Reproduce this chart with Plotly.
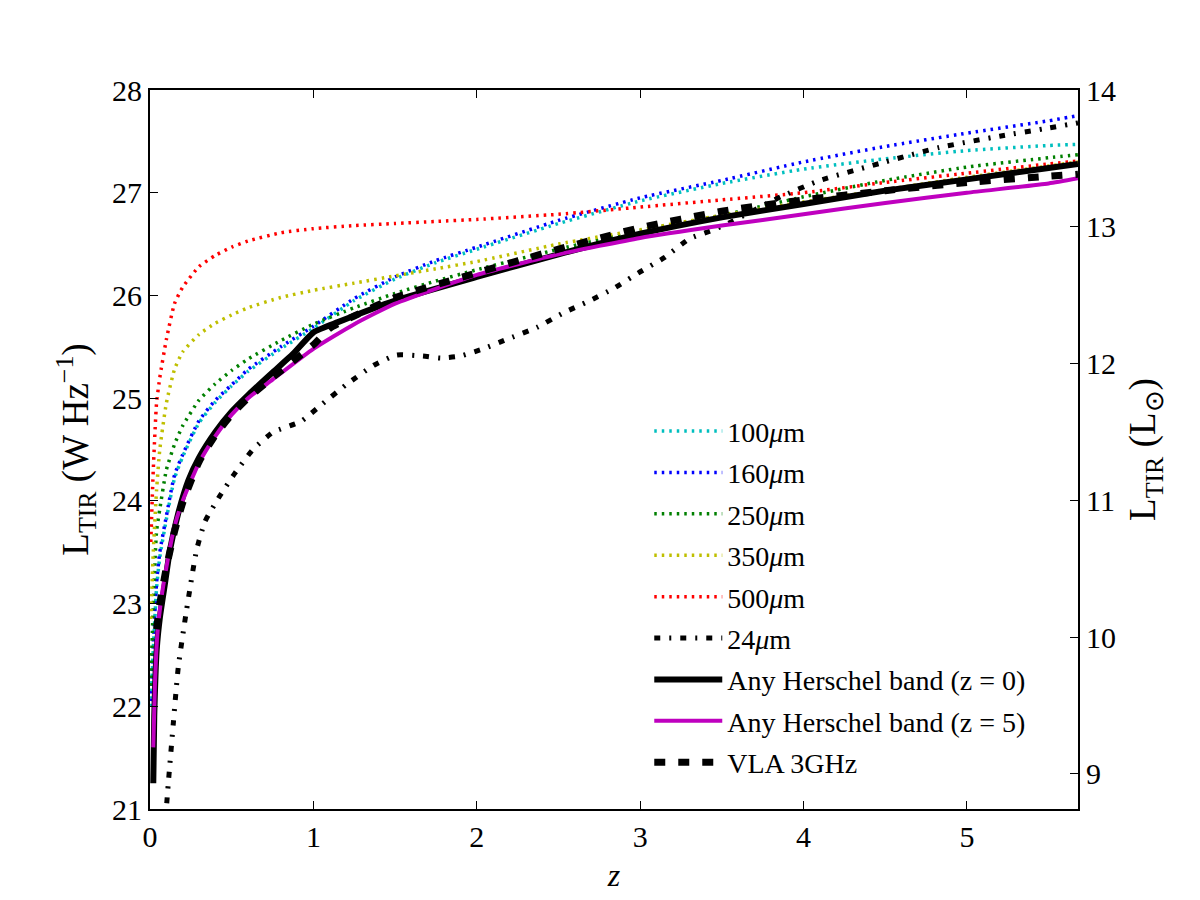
import plotly.graph_objects as go

# ---- data ----
z_grid = [0.005, 0.02, 0.04, 0.06, 0.1, 0.15, 0.2, 0.3, 0.4, 0.5, 0.6, 0.8, 1.0,
          1.25, 1.5, 1.75, 2.0, 2.5, 3.0, 3.5, 4.0, 4.5, 5.0, 5.5, 5.68]

L_100 = [22.0, 22.55, 23.15, 23.45, 23.82, 24.22, 24.43, 24.76, 24.96, 25.12, 25.26, 25.48, 25.68,
         25.95, 26.16, 26.32, 26.45, 26.70, 26.92, 27.09, 27.23, 27.33, 27.41, 27.46, 27.47]
L_160 = [22.05, 22.6, 23.2, 23.5, 23.85, 24.25, 24.45, 24.78, 24.98, 25.13, 25.28, 25.5, 25.7,
         25.97, 26.18, 26.34, 26.47, 26.73, 26.95, 27.12, 27.3, 27.45, 27.58, 27.7, 27.75]
L_250 = [22.2, 23.0, 23.7, 23.92, 24.3, 24.55, 24.73, 24.98, 25.14, 25.27, 25.38, 25.56, 25.72,
         25.88, 26.02, 26.14, 26.25, 26.45, 26.63, 26.78, 26.96, 27.12, 27.25, 27.34, 27.37]
L_350 = [22.85, 23.5, 24.1, 24.5, 24.95, 25.28, 25.45, 25.62, 25.73, 25.81, 25.88, 25.98, 26.05,
         26.12, 26.19, 26.26, 26.33, 26.5, 26.64, 26.78, 26.91, 27.03, 27.15, 27.26, 27.3]
L_500 = [23.6, 24.3, 24.95, 25.2, 25.57, 25.92, 26.08, 26.28, 26.39, 26.47, 26.53, 26.61, 26.65,
         26.68, 26.7, 26.72, 26.74, 26.79, 26.86, 26.93, 27.0, 27.1, 27.19, 27.28, 27.31]

z_24 = [0.09, 0.112, 0.143, 0.173, 0.224, 0.285, 0.337, 0.428, 0.52, 0.63, 0.755, 0.92, 1.06,
        1.2, 1.37, 1.51, 1.67, 1.78, 1.9, 2.04, 2.18, 2.37, 2.53, 2.68, 2.84, 2.99, 3.15,
        3.3, 3.45, 3.55, 3.86, 4.1, 4.5, 4.83, 5.2, 5.5, 5.68]
L_24 = [20.8, 21.25, 21.84, 22.38, 22.94, 23.52, 23.8, 24.05, 24.27, 24.5, 24.67, 24.77, 24.95,
        25.13, 25.32, 25.42, 25.41, 25.39, 25.41, 25.48, 25.57, 25.69, 25.83, 25.94, 26.07, 26.22, 26.37,
        26.55, 26.64, 26.71, 26.96, 27.12, 27.3, 27.44, 27.55, 27.63, 27.68]

z_h0 = [0.02, 0.026, 0.041, 0.061, 0.092, 0.122, 0.173, 0.235, 0.3, 0.4, 0.5, 0.6, 0.75, 0.875, 1.0,
        1.15, 1.5, 2.0, 2.5, 3.0, 3.5, 4.0, 4.5, 5.0, 5.5, 5.68]
L_h0 = [21.25, 21.9, 22.55, 22.87, 23.2, 23.52, 23.88, 24.2, 24.42, 24.67, 24.87, 25.03, 25.25, 25.43, 25.64,
        25.74, 25.95, 26.18, 26.4, 26.6, 26.76, 26.89, 27.02, 27.13, 27.24, 27.28]

z_h5 = [0.02, 0.03, 0.045, 0.065, 0.1, 0.15, 0.2, 0.3, 0.4, 0.5, 0.6, 0.75, 1.0, 1.25, 1.5, 2.0,
        2.5, 3.0, 3.5, 4.0, 4.5, 5.0, 5.5, 5.68]
L_h5 = [21.6, 22.2, 22.7, 23.0, 23.35, 23.75, 24.0, 24.37, 24.63, 24.84, 25.0, 25.18, 25.48, 25.72, 25.92, 26.2,
        26.4, 26.56, 26.68, 26.79, 26.9, 27.0, 27.09, 27.14]

z_vla = [0.04, 0.06, 0.1, 0.15, 0.2, 0.3, 0.4, 0.5, 0.6, 0.75, 1.0, 1.1, 1.25, 1.5, 2.0, 2.5, 3.0,
         3.5, 4.0, 4.5, 5.0, 5.5, 5.68]
L_vla = [22.75, 23.0, 23.35, 23.7, 23.98, 24.38, 24.64, 24.84, 25.0, 25.2, 25.52, 25.68, 25.8, 25.98, 26.22, 26.45, 26.66,
         26.82, 26.93, 27.02, 27.1, 27.16, 27.18]

x_ticks = [0, 1, 2, 3, 4, 5]
left_ticks = [21, 22, 23, 24, 25, 26, 27, 28]
right_ticks = [9, 10, 11, 12, 13, 14]

FONT = "Liberation Serif"

fig = go.Figure()

def add(x, y, name, color, width, dash, group):
    fig.add_trace(go.Scatter(x=x, y=y, mode="lines", name=name, legendgroup=group,
                             line=dict(color=color, width=width, dash=dash, shape="spline", smoothing=0.5),
                             hoverinfo="skip"))

dot = "2.5px,5px"
add(z_grid, L_100, "100<i>μ</i>m", "#00bfbf", 3.5, dot, "a")
add(z_grid, L_160, "160<i>μ</i>m", "#0000ff", 3.5, dot, "b")
add(z_grid, L_250, "250<i>μ</i>m", "#008000", 3.5, dot, "c")
add(z_grid, L_350, "350<i>μ</i>m", "#bfbf00", 3.5, dot, "d")
add(z_grid, L_500, "500<i>μ</i>m", "#ff0000", 3.5, dot, "e")
add(z_24, L_24, "24<i>μ</i>m", "#000000", 5, "6px,9px,2px,9px", "f")
add(z_h0, L_h0, "Any Herschel band (z = 0)", "#000000", 6, "solid", "g")
add(z_h5, L_h5, "Any Herschel band (z = 5)", "#bf00bf", 4, "solid", "h")
add(z_vla, L_vla, "VLA 3GHz", "#000000", 7, "11px,13px", "i")

# invisible trace to anchor the right-hand axis
fig.add_trace(go.Scatter(x=[None], y=[None], yaxis="y2", showlegend=False, hoverinfo="skip"))

axis_common = dict(showline=True, linecolor="black", linewidth=2, ticks="inside", ticklen=8,
                   tickwidth=1, tickcolor="black", showgrid=False, zeroline=False,
                   tickfont=dict(family=FONT, size=30, color="black"))

fig.update_layout(
    width=1200, height=900,
    paper_bgcolor="white", plot_bgcolor="white",
    margin=dict(l=150, r=122, t=90, b=91),
    font=dict(family=FONT, color="black"),
    xaxis=dict(range=[0, 5.68], tickvals=x_ticks, mirror="ticks",
               title=dict(text="<i>z</i>", font=dict(family=FONT, size=32), standoff=12),
               **axis_common),
    yaxis=dict(range=[21, 28], tickvals=left_ticks, mirror=True,
               title=dict(text="L<sub>TIR</sub> (W Hz<sup>−1</sup>)", font=dict(family=FONT, size=37), standoff=12),
               **axis_common),
    yaxis2=dict(range=[8.744, 14], tickvals=right_ticks, overlaying="y", side="right",
                title=dict(text="L<sub>TIR</sub> (L<sub>⊙</sub>)", font=dict(family=FONT, size=37), standoff=14),
                **axis_common),
    showlegend=True,
    legend=dict(x=0.538, y=0.56, xanchor="left", yanchor="top", bgcolor="rgba(0,0,0,0)",
                font=dict(family=FONT, size=28, color="black"), itemwidth=68,
                traceorder="grouped", tracegroupgap=2),
)

fig.write_html("out.html")
